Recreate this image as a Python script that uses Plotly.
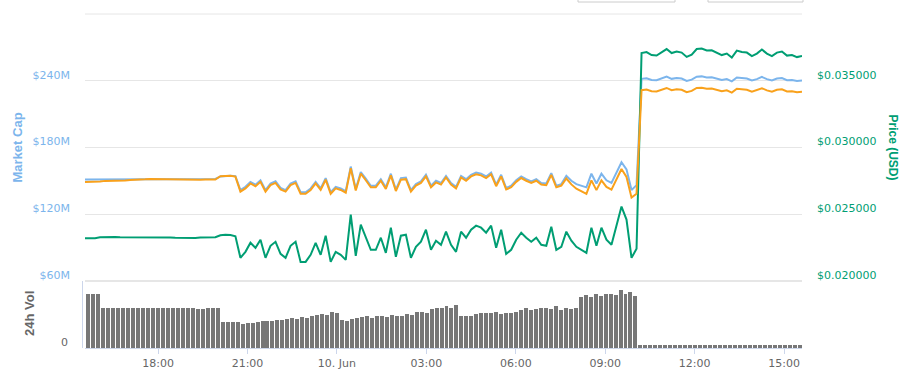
import pandas as pd
import plotly.graph_objects as go

# ---------------- data ----------------
line_times = pd.date_range("2018-06-09 15:33", "2018-06-10 15:36", periods=144)
bar_times = pd.date_range("2018-06-09 15:40", "2018-06-10 15:31", periods=144)

price_usd = [
    0.023204, 0.023204, 0.023204, 0.023279, 0.023294, 0.023294, 0.023294, 0.023279, 0.023279, 0.023294,
    0.023294, 0.023279, 0.023302, 0.023294, 0.023279, 0.023279, 0.023264, 0.023256, 0.023241, 0.023226,
    0.023219, 0.023204, 0.023226, 0.023256, 0.023279, 0.023264, 0.023279, 0.023430, 0.023467, 0.023445,
    0.023354, 0.021734, 0.022186, 0.022864, 0.022488, 0.023091, 0.021734, 0.022638, 0.022940, 0.022035,
    0.021734, 0.022638, 0.022940, 0.021432, 0.021432, 0.021960, 0.022864, 0.021960, 0.023392, 0.021432,
    0.022186, 0.021960, 0.021583, 0.024975, 0.021885, 0.024221, 0.023317, 0.022337, 0.022337, 0.023241,
    0.022111, 0.023995, 0.021809, 0.023392, 0.023467, 0.021734, 0.022563, 0.022940, 0.023844, 0.022337,
    0.023015, 0.022714, 0.023694, 0.022714, 0.022186, 0.023694, 0.023241, 0.023844, 0.024146, 0.023995,
    0.023618, 0.024146, 0.022488, 0.023844, 0.022035, 0.022337, 0.023091, 0.023618, 0.023241, 0.022940,
    0.023241, 0.022714, 0.022638, 0.024070, 0.022337, 0.022563, 0.023694, 0.023015, 0.022563, 0.022337,
    0.022111, 0.023995, 0.022638, 0.023995, 0.023091, 0.022714, 0.024221, 0.025578, 0.024598, 0.021734,
    0.022412, 0.037074, 0.037149, 0.036923, 0.036885, 0.037149, 0.037375, 0.037074, 0.037187, 0.037111,
    0.036787, 0.036961, 0.037375, 0.037413, 0.037262, 0.037285, 0.037111, 0.036923, 0.037036, 0.036734,
    0.037262, 0.037149, 0.037111, 0.036847, 0.037036, 0.037337, 0.037036, 0.036847, 0.037111, 0.037187,
    0.036885, 0.036923, 0.036772, 0.036847,
]

market_cap_m = [
    151.29, 151.29, 151.29, 151.78, 151.88, 151.88, 151.88, 151.78, 151.78, 151.88,
    151.88, 151.78, 151.93, 151.88, 151.78, 151.78, 151.68, 151.63, 151.53, 151.43,
    151.39, 151.29, 151.43, 151.63, 151.78, 151.68, 151.78, 154.00, 154.60, 154.60,
    154.20, 141.71, 144.65, 149.07, 146.62, 150.55, 141.71, 147.60, 149.57, 143.67,
    141.71, 147.60, 149.57, 139.74, 139.74, 143.18, 149.07, 143.18, 152.52, 139.74,
    144.65, 143.18, 140.72, 162.84, 142.69, 157.92, 152.03, 145.64, 145.64, 151.53,
    144.16, 156.45, 142.19, 152.52, 153.00, 141.71, 147.11, 149.57, 155.46, 145.64,
    150.06, 148.10, 154.48, 148.10, 144.65, 154.48, 151.53, 155.46, 157.43, 156.45,
    153.99, 157.43, 146.62, 155.46, 143.67, 145.64, 150.55, 153.99, 151.53, 149.57,
    151.53, 148.10, 147.60, 156.94, 145.64, 147.11, 154.48, 150.06, 147.11, 145.64,
    144.16, 156.45, 147.60, 156.45, 150.55, 148.10, 157.92, 166.77, 160.38, 141.71,
    146.13, 241.72, 242.21, 240.74, 240.49, 242.21, 243.69, 241.72, 242.46, 241.96,
    239.85, 240.99, 243.69, 243.93, 242.95, 243.10, 241.96, 240.74, 241.47, 239.51,
    242.95, 242.21, 241.96, 240.24, 241.47, 243.44, 241.47, 240.24, 241.96, 242.46,
    240.49, 240.74, 239.75, 240.24,
]

price_btc_sat = [
    304.6, 304.6, 304.6, 306.0, 307.5, 307.5, 308.7, 308.4, 308.4, 309.9,
    309.9, 309.7, 311.3, 312.4, 312.1, 312.1, 311.8, 310.5, 310.2, 310.0,
    309.9, 309.6, 310.0, 310.5, 310.9, 310.6, 310.9, 319.0, 320.0, 320.0,
    318.0, 280.9, 289.0, 301.1, 294.4, 305.1, 280.9, 297.0, 302.4, 286.3,
    280.9, 297.0, 302.4, 275.6, 275.6, 285.0, 301.1, 285.0, 310.4, 275.6,
    289.0, 285.0, 278.2, 338.7, 283.6, 325.2, 309.1, 291.7, 291.7, 307.8,
    287.6, 321.2, 282.3, 310.4, 311.8, 280.9, 295.7, 302.4, 318.5, 291.7,
    303.7, 298.4, 315.8, 298.4, 289.0, 315.8, 307.8, 318.5, 323.9, 321.2,
    314.5, 323.9, 294.4, 318.5, 286.3, 291.7, 305.1, 314.5, 307.8, 302.4,
    307.8, 298.4, 297.0, 322.4, 291.7, 295.7, 313.4, 298.8, 288.3, 281.8,
    275.3, 308.8, 284.7, 308.8, 292.7, 286.0, 312.9, 337.0, 317.1, 266.1,
    275.7, 531.8, 533.2, 529.1, 528.5, 533.2, 537.2, 531.8, 533.8, 532.5,
    526.7, 529.8, 537.2, 537.9, 535.2, 535.6, 532.5, 529.1, 531.2, 525.8,
    535.2, 533.2, 532.5, 527.8, 531.2, 536.5, 531.2, 527.8, 532.5, 533.8,
    528.5, 529.1, 526.5, 527.8,
]

volume_k = [
    54, 54, 54, 40, 40, 40, 40, 40, 40, 40,
    40, 40, 40, 40, 40, 40, 40, 40, 40, 40,
    40, 40, 39, 39, 40, 40, 40, 26, 26, 26,
    26, 24.5, 25, 25, 26, 27, 27.5, 27.5, 28, 28.5,
    29.5, 30, 29.5, 31, 30, 32, 33, 34, 33, 36,
    35, 28, 27, 29, 30, 31, 32, 30, 32, 32,
    31, 33, 32, 32, 34, 33, 36, 36, 35, 39,
    40, 40, 42, 40, 43, 32, 32, 32, 34, 35,
    35, 35, 36, 34, 35, 35, 36, 38, 40, 38,
    39, 40, 40, 39, 42, 38, 40, 39, 40, 51,
    53, 51, 54, 52, 54, 54, 53, 58, 54, 56,
    52, 2.8, 2.8, 2.8, 2.8, 2.8, 2.8, 2.8, 2.8, 2.8,
    2.8, 2.8, 2.8, 2.8, 2.8, 2.8, 2.8, 2.8, 2.8, 2.8,
    2.8, 2.8, 2.8, 2.8, 2.8, 2.8, 2.8, 2.8, 2.8, 2.8,
    2.8, 2.8, 2.8, 2.8,
]

x_tick_vals = ["2018-06-09 18:00", "2018-06-09 21:00", "2018-06-10 00:00", "2018-06-10 03:00",
               "2018-06-10 06:00", "2018-06-10 09:00", "2018-06-10 12:00", "2018-06-10 15:00"]
x_tick_text = ["18:00", "21:00", "10. Jun", "03:00", "06:00", "09:00", "12:00", "15:00"]
mc_tick_vals = [60, 120, 180, 240, 300]
mc_tick_text = ["$60M", "$120M", "$180M", "$240M", ""]
usd_tick_vals = [0.020, 0.025, 0.030, 0.035]
usd_tick_text = ["$0.020000", "$0.025000", "$0.030000", "$0.035000"]

# ---------------- style ----------------
BLUE = "#7cb5ec"
GREEN = "#009e73"
ORANGE = "#f9a11b"
GRAY = "#777777"
LABEL = "#666666"
AXLINE = "#ccd6eb"
GRID = "#e6e6e6"
FONT = "DejaVu Sans"

W, H = 910, 376
ML, MR, MT, MB = 85, 108, 14, 28
PW, PH = W - ML - MR, H - MT - MB


def px_x(px):
    return (px - ML) / PW


def px_y(py):
    return (H - MB - py) / PH


main_bottom = px_y(281)
vol_top = px_y(283)

fig = go.Figure()

fig.add_trace(go.Bar(x=bar_times, y=volume_k, marker=dict(color=GRAY, line=dict(width=0)),
                     width=8 * 60 * 1000, xaxis="x", yaxis="y", name="24h Vol"))
fig.add_trace(go.Scatter(x=line_times, y=market_cap_m, mode="lines", line=dict(color=BLUE, width=2),
                         xaxis="x", yaxis="y2", name="Market Cap"))
fig.add_trace(go.Scatter(x=line_times, y=price_usd, mode="lines", line=dict(color=GREEN, width=2),
                         xaxis="x", yaxis="y3", name="Price (USD)"))
fig.add_trace(go.Scatter(x=line_times, y=price_btc_sat, mode="lines", line=dict(color=ORANGE, width=2),
                         xaxis="x", yaxis="y4", name="Price (BTC)"))

fig.update_layout(
    width=W, height=H,
    margin=dict(l=ML, r=MR, t=MT, b=MB, pad=0, autoexpand=False),
    paper_bgcolor="white", plot_bgcolor="white",
    showlegend=False,
    font=dict(family=FONT, size=11, color=LABEL),
    bargap=0,
    xaxis=dict(
        type="date", domain=[0, 1], anchor="y", automargin=False,
        range=["2018-06-09 15:33", "2018-06-10 15:36"],
        showgrid=False, zeroline=False,
        showline=True, linecolor=AXLINE, linewidth=1,
        ticks="outside", ticklen=5, tickcolor=AXLINE, tickwidth=1,
        tickvals=x_tick_vals, ticktext=x_tick_text,
        tickfont=dict(family=FONT, size=11, color=LABEL),
    ),
    yaxis=dict(
        domain=[0, vol_top], range=[0, 65], anchor="x", automargin=False,
        showgrid=False, zeroline=False, showline=False,
        tickvals=[0], ticktext=["0"], ticks="",
        tickfont=dict(family=FONT, size=11, color=LABEL),
        ticklabelshift=-6, ticklabelstandoff=16,
    ),
    yaxis2=dict(
        domain=[main_bottom, 1], range=[60, 300], anchor="x", automargin=False,
        showgrid=True, gridcolor=GRID, gridwidth=1, zeroline=False, showline=False,
        tickvals=mc_tick_vals, ticktext=mc_tick_text, ticks="",
        tickfont=dict(family=FONT, size=11, color=BLUE),
        ticklabelshift=-6, ticklabelstandoff=14,
    ),
    yaxis3=dict(
        overlaying="y2", side="right", anchor="x", range=[0.020, 0.040], automargin=False,
        showgrid=False, zeroline=False, showline=False,
        tickvals=usd_tick_vals, ticktext=usd_tick_text, ticks="",
        tickfont=dict(family=FONT, size=11, color=GREEN),
        ticklabelshift=-6, ticklabelstandoff=14,
    ),
    yaxis4=dict(overlaying="y2", anchor="x", range=[60, 720], visible=False, automargin=False),
)

shapes = [
    # top range-selector boxes (cut off at top edge)
    dict(type="rect", xref="paper", yref="paper", x0=px_x(578), x1=px_x(675), y0=px_y(2), y1=px_y(-8),
         line=dict(color="#cccccc", width=1), fillcolor="white"),
    dict(type="rect", xref="paper", yref="paper", x0=px_x(708), x1=px_x(803), y0=px_y(2), y1=px_y(-8),
         line=dict(color="#cccccc", width=1), fillcolor="white"),
    # volume axis line
    dict(type="line", xref="paper", yref="paper", x0=px_x(82.5), x1=px_x(82.5), y0=0, y1=main_bottom,
         line=dict(color=AXLINE, width=1)),
    # bottom of price pane
    dict(type="line", xref="paper", yref="paper", x0=0, x1=1, y0=main_bottom, y1=main_bottom,
         line=dict(color=GRID, width=2), layer="below"),
    dict(type="line", xref="paper", yref="paper", x0=0, x1=1, y0=1, y1=1,
         line=dict(color=GRID, width=1), layer="below"),
]
fig.update_layout(shapes=shapes)

fig.update_layout(annotations=[
    dict(text="<b>Market Cap</b>", xref="paper", yref="paper", x=px_x(17), y=px_y(147.5), showarrow=False,
         textangle=-90, xanchor="center", yanchor="middle",
         font=dict(family="Liberation Sans", size=13, color=BLUE)),
    dict(text="<b>24h Vol</b>", xref="paper", yref="paper", x=px_x(29), y=px_y(314), showarrow=False,
         textangle=-90, xanchor="center", yanchor="middle",
         font=dict(family="Liberation Sans", size=13, color=LABEL)),
    dict(text="<b>Price (USD)</b>", xref="paper", yref="paper", x=px_x(892.5), y=px_y(148), showarrow=False,
         textangle=90, xanchor="center", yanchor="middle",
         font=dict(family="Liberation Sans", size=12, color=GREEN)),
])

fig.write_html("out.html", config={"displayModeBar": False},
               post_script="document.body.style.margin='0px';document.body.style.overflow='hidden';")
